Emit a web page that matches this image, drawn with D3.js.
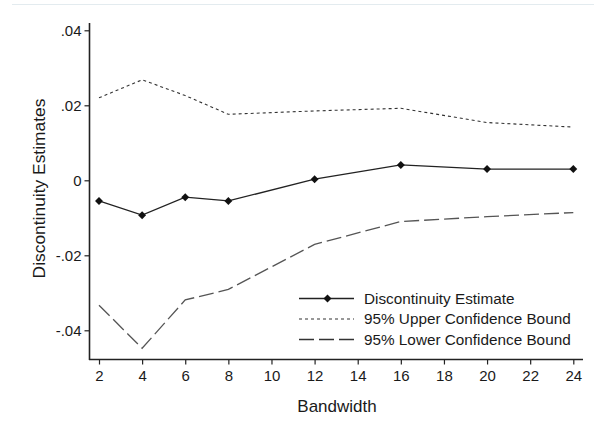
<!DOCTYPE html>
<html>
<head>
<meta charset="utf-8">
<script src="https://cdn.jsdelivr.net/npm/d3@7"></script>
<style>
  html, body { margin: 0; padding: 0; background: #fff; }
  svg { display: block; }
  text { font-family: Arial, "Liberation Sans", sans-serif; fill: #1a1a1a; }
</style>
</head>
<body>
<svg id="chart" width="594" height="427"></svg>
<script>
// Regression-discontinuity estimates by bandwidth
const bandwidths = [2, 4, 6, 8, 12, 16, 20, 24];
const estimate   = [-0.0055, -0.0093, -0.0045, -0.0055, 0.0003, 0.0041, 0.0030, 0.0030];
const upperBound = [0.0220, 0.0268, 0.0226, 0.0176, 0.0185, 0.0192, 0.0154, 0.0142];
const lowerBound = [-0.0333, -0.0448, -0.0319, -0.0291, -0.0171, -0.0110, -0.0097, -0.0086];

const xTicks = [2, 4, 6, 8, 10, 12, 14, 16, 18, 20, 22, 24];
const yTicks = [-0.04, -0.02, 0, 0.02, 0.04];
const yTickLabels = ["-.04", "-.02", "0", ".02", ".04"];

const legendLabels = ["Discontinuity Estimate", "95% Upper Confidence Bound", "95% Lower Confidence Bound"];

const svg = d3.select("#chart");

// faint frame line along the top
svg.append("line")
  .attr("x1", 12).attr("x2", 594).attr("y1", 4.5).attr("y2", 4.5)
  .attr("stroke", "#e3ebef").attr("stroke-width", 1);

const x = d3.scaleLinear().domain([2, 24]).range([99, 573.3]);
const y = d3.scaleLinear().domain([0, 0.04]).range([180.3, 30.3]);

const axisLeftX = 89.5, axisBottomY = 359.5;
const plotTop = 23, plotRight = 583;
const tickFont = 15;

// y axis
const yAxis = svg.append("g")
  .attr("transform", `translate(${axisLeftX},0)`)
  .call(d3.axisLeft(y).tickValues(yTicks)
    .tickFormat((d, i) => yTickLabels[i]).tickSize(5).tickPadding(3));
yAxis.select(".domain").remove();
yAxis.append("line").attr("x1", 0).attr("x2", 0)
  .attr("y1", plotTop).attr("y2", axisBottomY + 0.5)
  .attr("stroke", "#222").attr("stroke-width", 1.6);
yAxis.selectAll(".tick line").attr("stroke", "#222").attr("stroke-width", 1.2);
yAxis.selectAll(".tick text").attr("font-size", tickFont).attr("fill", "#1a1a1a")
  .attr("font-family", "Arial, 'Liberation Sans', sans-serif");

// x axis
const xAxis = svg.append("g")
  .attr("transform", `translate(0,${axisBottomY})`)
  .call(d3.axisBottom(x).tickValues(xTicks).tickSize(5).tickPadding(6));
xAxis.select(".domain").remove();
xAxis.append("line").attr("x1", axisLeftX - 0.5).attr("x2", plotRight)
  .attr("y1", 0).attr("y2", 0)
  .attr("stroke", "#222").attr("stroke-width", 1.6);
xAxis.selectAll(".tick line").attr("stroke", "#222").attr("stroke-width", 1.2);
xAxis.selectAll(".tick text").attr("font-size", tickFont).attr("fill", "#1a1a1a")
  .attr("font-family", "Arial, 'Liberation Sans', sans-serif");

// axis titles
svg.append("text")
  .attr("x", 337).attr("y", 411.5)
  .attr("text-anchor", "middle").attr("font-size", 17)
  .text("Bandwidth");
svg.append("text")
  .attr("transform", "translate(44.5,188.5) rotate(-90)")
  .attr("text-anchor", "middle").attr("font-size", 17.4)
  .text("Discontinuity Estimates");

const line = d3.line().x((d, i) => x(bandwidths[i])).y(d => y(d));

// upper bound (short dashes)
svg.append("path").datum(upperBound)
  .attr("d", line).attr("fill", "none")
  .attr("stroke", "#333").attr("stroke-width", 1.1)
  .attr("stroke-dasharray", "3,3");

// lower bound (long dashes)
svg.append("path").datum(lowerBound)
  .attr("d", line).attr("fill", "none")
  .attr("stroke", "#555").attr("stroke-width", 1.3)
  .attr("stroke-dasharray", "15,5");

// point estimate
svg.append("path").datum(estimate)
  .attr("d", line).attr("fill", "none")
  .attr("stroke", "#222").attr("stroke-width", 1.3);

const diamond = d3.symbol().type(d3.symbolDiamond2).size(40);
svg.selectAll(".pt").data(estimate).enter().append("path")
  .attr("class", "pt")
  .attr("transform", (d, i) => `translate(${x(bandwidths[i])},${y(d)})`)
  .attr("d", diamond).attr("fill", "#111");

// legend
const legendStyles = [
  { stroke: "#222", dash: null, width: 1.3, marker: true },
  { stroke: "#333", dash: "3,3", width: 1.1, marker: false },
  { stroke: "#333", dash: "15,5", width: 1.3, marker: false }
];
const lg = svg.append("g");
legendLabels.forEach((lab, i) => {
  const yy = 298.5 + i * 20.5;
  const st = legendStyles[i];
  lg.append("line")
    .attr("x1", 299).attr("x2", 354).attr("y1", yy).attr("y2", yy)
    .attr("stroke", st.stroke).attr("stroke-width", st.width)
    .attr("stroke-dasharray", st.dash);
  if (st.marker) {
    lg.append("path").attr("transform", `translate(327.5,${yy})`)
      .attr("d", diamond).attr("fill", "#111");
  }
  lg.append("text")
    .attr("x", 364).attr("y", yy + 5.4)
    .attr("font-size", 15.3)
    .text(lab);
});
</script>
</body>
</html>
